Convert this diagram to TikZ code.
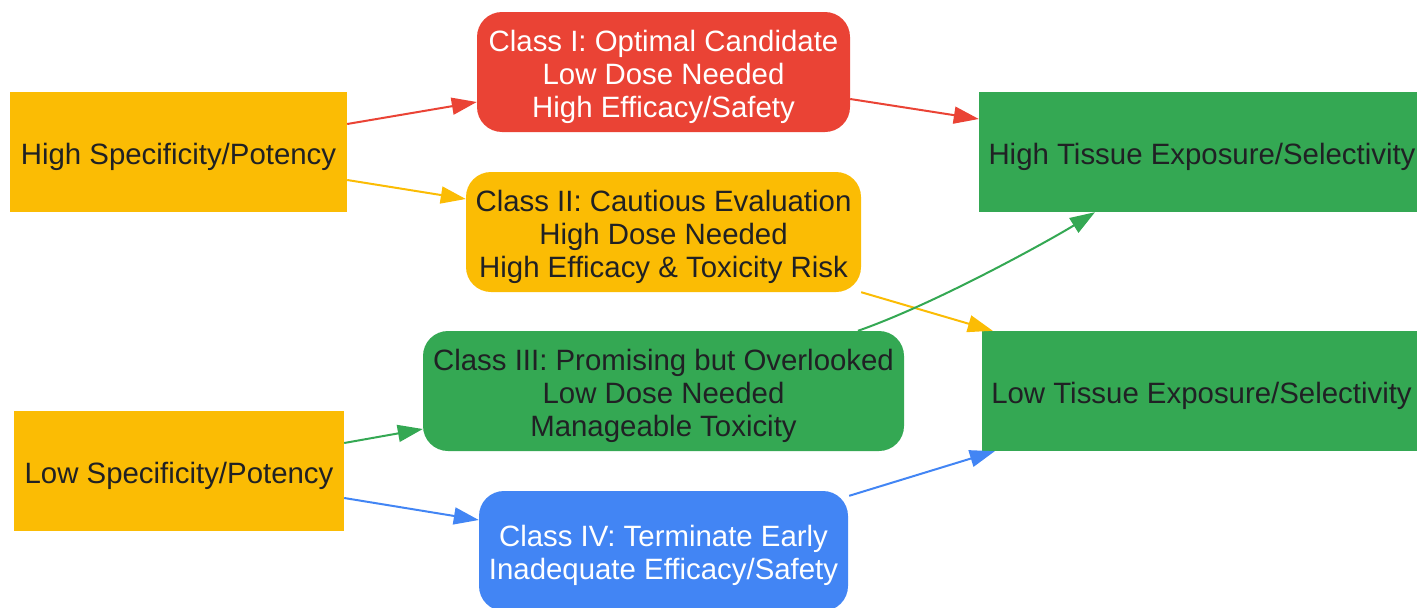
\documentclass[tikz,border=0pt]{standalone}
\usepackage{fontspec}
\setmainfont{Liberation Sans}
\usetikzlibrary{arrows.meta}
\definecolor{gred}{HTML}{EA4335}
\definecolor{gyel}{HTML}{FBBC04}
\definecolor{ggrn}{HTML}{34A853}
\definecolor{gblu}{HTML}{4285F4}
\definecolor{gtxt}{HTML}{202124}
\tikzset{
  box/.style={inner sep=0pt, minimum height=120pt},
  txt/.style={inner sep=0pt, align=center, yshift=-4.5pt, font=\fontsize{29.4}{33}\selectfont},
  cls/.style={box, rounded corners=25pt},
  conn/.style={line width=2pt, -{Triangle[length=25pt,width=17pt]}},
}
\begin{document}
\begin{tikzpicture}[x=1pt,y=-1pt]
\useasboundingbox (0,0) rectangle (1417,608);
% left
\node[box, fill=gyel, minimum width=337pt, label={[txt, text=gtxt]center:High Specificity/Potency}] (hs) at (178.5,152) {};
\node[box, fill=gyel, minimum width=330pt, label={[txt, text=gtxt]center:Low Specificity/Potency}] (ls) at (179,471) {};
% classes
\node[cls, fill=gred, minimum width=373pt, label={[txt, text=white]center:{Class I: Optimal Candidate\\Low Dose Needed\\High Efficacy/Safety}}] (c1) at (663.5,72) {};
\node[cls, fill=gyel, minimum width=395pt, label={[txt, text=gtxt]center:{Class II: Cautious Evaluation\\High Dose Needed\\High Efficacy \& Toxicity Risk}}] (c2) at (663.5,232) {};
\node[cls, fill=ggrn, minimum width=481pt, label={[txt, text=gtxt]center:{Class III: Promising but Overlooked\\Low Dose Needed\\Manageable Toxicity}}] (c3) at (663.5,391) {};
\node[cls, fill=gblu, minimum width=369pt, label={[txt, text=white]center:{Class IV: Terminate Early\\Inadequate Efficacy/Safety}}] (c4) at (663.5,551) {};
% right
\node[box, fill=ggrn, minimum width=440pt, label={[txt, text=gtxt, xshift=3pt]center:High Tissue Exposure/Selectivity}] (ht) at (1199,152) {};
\node[box, fill=ggrn, minimum width=437pt, label={[txt, text=gtxt, xshift=1pt]center:Low Tissue Exposure/Selectivity}] (lt) at (1200.5,391) {};
% connectors
\draw[conn, gred] ([yshift=28pt]hs.east) -- ([yshift=-30pt]c1.west);
\draw[conn, gyel] ([yshift=-28pt]hs.east) -- ([yshift=33pt]c2.west);
\draw[conn, gred] ([yshift=-27pt]c1.east) -- ([yshift=33pt]ht.west);
\draw[conn, gyel] (c2.south east) -- ([xshift=11pt]lt.north west);
\draw[conn, ggrn] ([xshift=194.5pt]c3.north) .. controls +(80pt,28pt) and +(-40pt,-25pt) .. ([xshift=-104pt]ht.south);
\draw[conn, ggrn] ([yshift=28pt]ls.east) -- ([yshift=-38pt]c3.west);
\draw[conn, gblu] ([yshift=-27pt]ls.east) -- ([yshift=31pt]c4.west);
\draw[conn, gblu] ([xshift=1pt,yshift=-5pt]c4.north east) -- ([xshift=13pt]lt.south west);
\end{tikzpicture}
\end{document}
